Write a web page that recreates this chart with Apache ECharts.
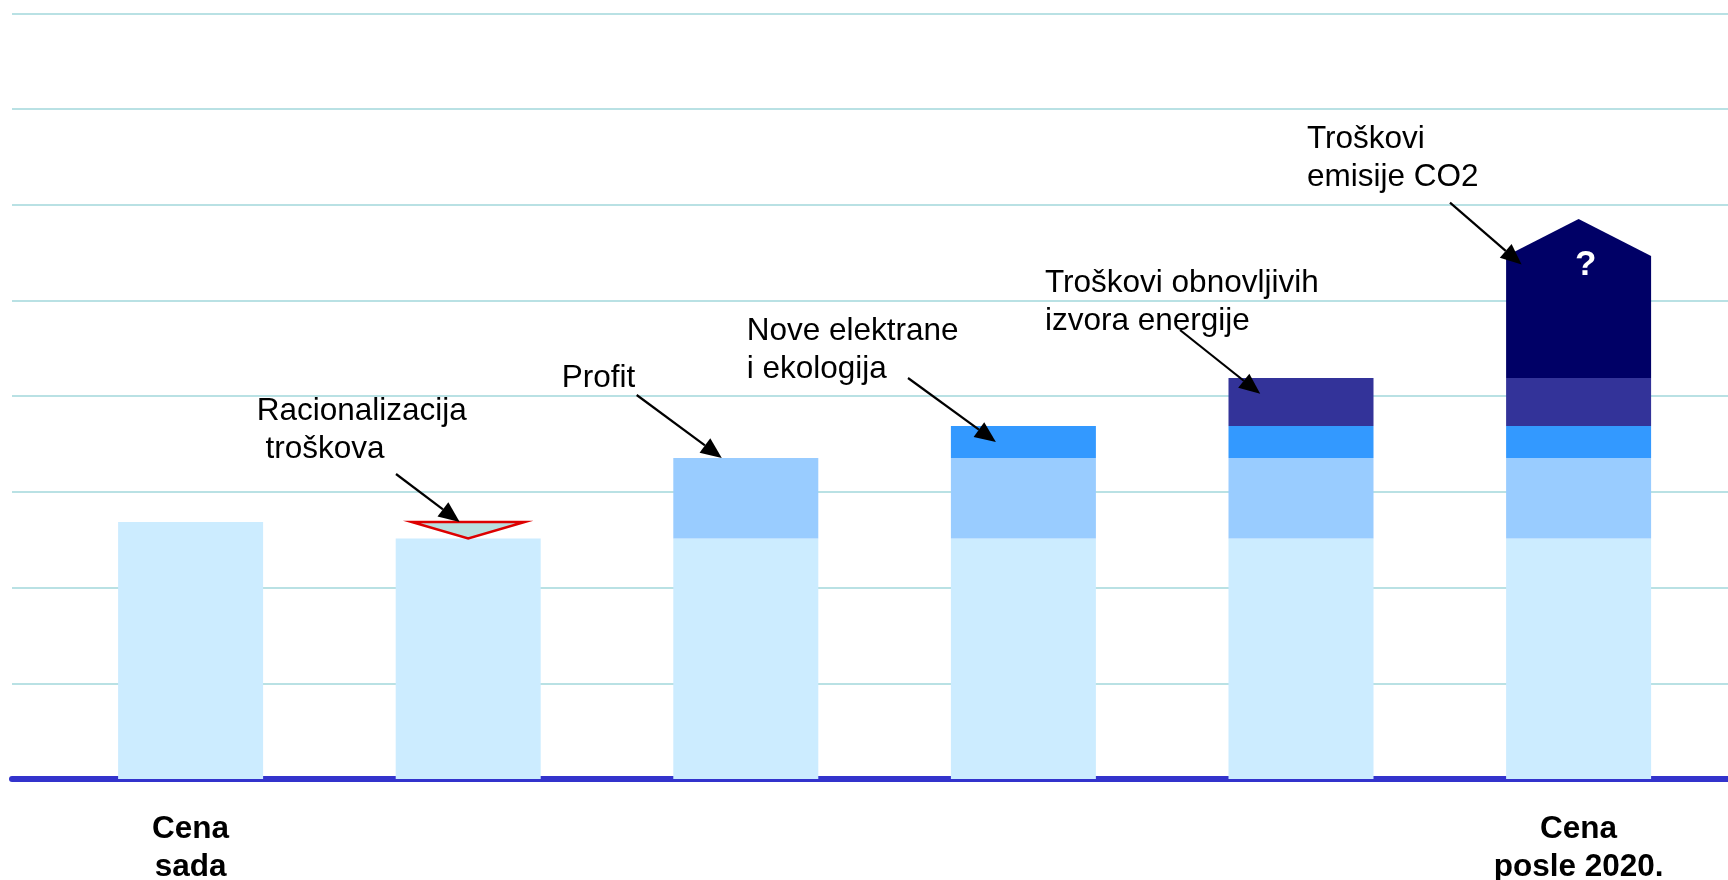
<!DOCTYPE html>
<html><head><meta charset="utf-8">
<script src="https://cdn.jsdelivr.net/npm/echarts@6/dist/echarts.min.js"></script>
<style>html,body{margin:0;padding:0;background:#fff}#c{width:1728px;height:880px}</style>
</head><body><div id="c"></div>
<script>
// ---- data ----
const categories = ['Cena sada', 'Racionalizacija troškova', 'Profit', 'Nove elektrane i ekologija', 'Troškovi obnovljivih izvora energije', 'Cena posle 2020.'];
const axisLabels = ['Cena\nsada', '', '', '', '', 'Cena\nposle 2020.'];
const baseCost   = [2.685, 2.513, 2.513, 2.513, 2.513, 2.513];
const savings    = [null, 0.172, null, null, null, null];
const profit     = [null, null, 0.841, 0.841, 0.841, 0.841];
const newPlants  = [null, null, null, 0.334, 0.334, 0.334];
const renewables = [null, null, null, null, 0.502, 0.502];
const co2Costs   = [null, null, null, null, null, 1.274];
const co2Unknown = [null, null, null, null, null, 0.387];
const annotationLines = [['Racionalizacija', ' troškova'], ['Profit'], ['Nove elektrane', 'i ekologija'], ['Troškovi obnovljivih', 'izvora energije'], ['Troškovi', 'emisije CO2']];

// ---- layout / style ----
const FONT = '"Liberation Sans", Arial, sans-serif';
const BAR_W = 145;
const v = x => (x == null ? 0 : x);
const stackTop = i => v(baseCost[i]) + v(profit[i]) + v(newPlants[i]) + v(renewables[i]);

const chart = echarts.init(document.getElementById('c'), null, { renderer: 'canvas' });

const option = {
  animation: false,
  backgroundColor: '#ffffff',
  grid: [
    { left: 12, right: 0, top: 13.3, bottom: 101, containLabel: false, outerBoundsMode: 'none' },
    { left: 51.8, right: 10.6, top: 13.3, bottom: 101, containLabel: false, outerBoundsMode: 'none' }
  ],
  xAxis: [
    { gridIndex: 0, type: 'value', min: 0, max: 1,
      axisLine: { show: true, onZero: false, lineStyle: { color: '#3333cc', width: 6 } },
      axisTick: { show: false }, axisLabel: { show: false }, splitLine: { show: false } },
    { gridIndex: 1, type: 'category', data: categories,
      axisLine: { show: false }, axisTick: { show: false },
      axisLabel: { interval: 0, formatter: (val, i) => axisLabels[i], fontFamily: FONT, fontSize: 31.5,
        fontWeight: 'bold', color: '#000', lineHeight: 38, margin: 31 } }
  ],
  yAxis: [
    { gridIndex: 0, type: 'value', min: 0, max: 8, interval: 1,
      axisLine: { show: false }, axisTick: { show: false }, axisLabel: { show: false },
      splitLine: { show: true, showMinLine: false, lineStyle: { color: '#b9e1e4', width: 2 } } },
    { gridIndex: 1, type: 'value', min: 0, max: 8, interval: 1, show: false, splitLine: { show: false } }
  ],
  series: [
    { name: 'Cena', type: 'bar', stack: 'p', xAxisIndex: 1, yAxisIndex: 1, barWidth: BAR_W,
      itemStyle: { color: '#ccecff' }, data: baseCost },
    { name: 'Profit', type: 'bar', stack: 'p', xAxisIndex: 1, yAxisIndex: 1, barWidth: BAR_W,
      itemStyle: { color: '#99ccff' }, data: profit },
    { name: 'Nove elektrane', type: 'bar', stack: 'p', xAxisIndex: 1, yAxisIndex: 1, barWidth: BAR_W,
      itemStyle: { color: '#3399ff' }, data: newPlants },
    { name: 'Obnovljivi', type: 'bar', stack: 'p', xAxisIndex: 1, yAxisIndex: 1, barWidth: BAR_W,
      itemStyle: { color: '#333399' }, data: renewables },
    { name: 'CO2', type: 'custom', xAxisIndex: 1, yAxisIndex: 1, z: 3,
      data: co2Costs.map((c, i) => c == null ? null : [i, stackTop(i), c, v(co2Unknown[i])]).filter(d => d),
      renderItem: (params, api) => {
        const idx = api.value(0), b = api.value(1), h = api.value(2), u = api.value(3);
        const pB = api.coord([idx, b]), pT = api.coord([idx, b + h]), pP = api.coord([idx, b + h + u]);
        const hw = BAR_W / 2, cx = pB[0];
        return { type: 'group', children: [
          { type: 'polygon', shape: { points: [[cx - hw, pB[1]], [cx - hw, pT[1]], [cx, pP[1]], [cx + hw, pT[1]], [cx + hw, pB[1]]] },
            style: { fill: '#000066' } },
          { type: 'text', x: cx + 7, y: pT[1] + 9,
            style: { text: '?', fill: '#ffffff', font: 'bold 35px ' + FONT, align: 'center', verticalAlign: 'middle' } }
        ] };
      } },
    { name: 'Racionalizacija', type: 'custom', xAxisIndex: 1, yAxisIndex: 1, z: 3,
      data: savings.map((s, i) => s == null ? null : [i, baseCost[i], baseCost[i] + s]).filter(d => d),
      renderItem: (params, api) => {
        const idx = api.value(0);
        const pB = api.coord([idx, api.value(1)]), pT = api.coord([idx, api.value(2)]);
        const hw = 56.5, cx = pB[0];
        return { type: 'polygon', shape: { points: [[cx - hw, pT[1]], [cx + hw, pT[1]], [cx, pB[1]]] },
          style: { fill: '#b8dfe0', stroke: '#dd0000', lineWidth: 2.5 } };
      } }
  ]
};
chart.setOption(option);

// ---- annotations (text + arrows) ----
const annotationLayout = [
  { x: 256.7, y: 420,   start: [396, 474],   tip: () => [1, baseCost[0]], dx: -8.5 },
  { x: 561.7, y: 386.7, start: [636.7, 395], tip: () => [2, baseCost[2] + profit[2]], dx: -24 },
  { x: 746.7, y: 340,   start: [908, 378],   tip: () => [3, baseCost[3] + profit[3] + newPlants[3] * 0.5], dx: -27.5 },
  { x: 1045,  y: 291.7, start: [1180, 330],  tip: () => [4, stackTop(4) - renewables[4] + renewables[4] * 0.67], dx: -40.8 },
  { x: 1307,  y: 148,   start: [1450, 202.7], tip: () => [5, stackTop(5) + co2Costs[5] * 0.93], dx: -57 }
];
const LINE_GAP = 37.7;
const graphics = [];
annotationLayout.forEach((a, k) => {
  annotationLines[k].forEach((t, j) => {
    graphics.push({ type: 'text', x: a.x, y: a.y + j * LINE_GAP - 8.5, z: 10,
      style: { text: t, font: '31.5px ' + FONT, fill: '#000', align: 'left', verticalAlign: 'middle' } });
  });
  const p = chart.convertToPixel({ gridIndex: 1 }, a.tip());
  const tip = [p[0] + a.dx, p[1]];
  const s = a.start;
  const dxv = tip[0] - s[0], dyv = tip[1] - s[1];
  const len = Math.sqrt(dxv * dxv + dyv * dyv);
  const ux = dxv / len, uy = dyv / len;
  const L = 21, W = 9;
  const bx = tip[0] - ux * L, by = tip[1] - uy * L;
  graphics.push({ type: 'line', z: 10, shape: { x1: s[0], y1: s[1], x2: bx, y2: by },
    style: { stroke: '#000', lineWidth: 2.2 } });
  graphics.push({ type: 'polygon', z: 10,
    shape: { points: [tip, [bx - uy * W, by + ux * W], [bx + uy * W, by - ux * W]] },
    style: { fill: '#000' } });
});
chart.setOption({ graphic: graphics });
</script>
</body></html>
